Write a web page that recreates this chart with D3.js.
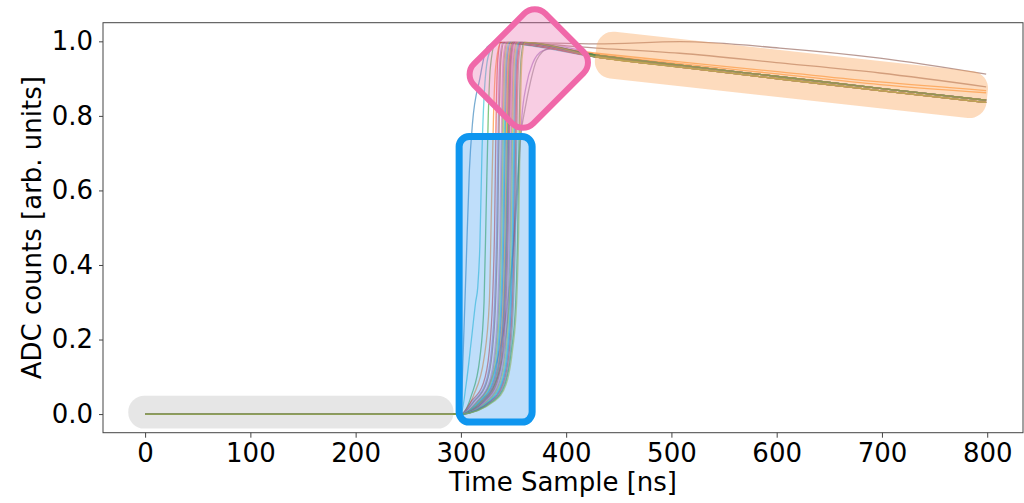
<!DOCTYPE html>
<html>
<head>
<meta charset="utf-8">
<script src="https://cdn.jsdelivr.net/npm/d3@7"></script>
<style>
body { margin: 0; background: #fff; }
text { font-family: "DejaVu Sans", sans-serif; fill: #000; }
</style>
</head>
<body>
<div id="chart"></div>
<script>
var width = 1024,
    height = 503;

// matplotlib default colour cycle
var palette = ['#1f77b4', '#ff7f0e', '#2ca02c', '#d62728', '#9467bd',
               '#8c564b', '#e377c2', '#7f7f7f', '#bcbd22', '#17becf'];

var xTicks = [0, 100, 200, 300, 400, 500, 600, 700, 800];
var yTicks = [0.0, 0.2, 0.4, 0.6, 0.8, 1.0];

// flat baseline before the pulse, [time, value]
var pedestal = [[0, 0], [150, 0], [299, 0]];

// decay after the peak
var tailMain    = [[429, 0.963], [508, 0.936], [603, 0.905], [698, 0.874], [799, 0.842]];
var tailLow     = [[429, 0.958], [508, 0.931], [603, 0.899], [698, 0.868], [799, 0.836]];
var tailMid     = [[429, 0.982], [508, 0.968], [603, 0.942], [698, 0.915], [799, 0.878]];
var tailHigh    = [[429, 0.993], [508, 0.999], [603, 0.982], [698, 0.955], [799, 0.912]];
var tailOrangeA = [[429, 0.968], [508, 0.945], [603, 0.918], [698, 0.891], [799, 0.868]];
var tailOrangeB = [[429, 0.965], [508, 0.940], [603, 0.912], [698, 0.884], [799, 0.862]];

// rising edge of each waveform
var traceRise = [
    [[300, 0], [302, 0.15], [305, 0.4], [308, 0.65], [311, 0.78], [318, 0.9], [325, 0.985], [335, 0.997]],
    [[300, 0], [305, 0.08], [310, 0.2], [314, 0.3], [316, 0.34], [318, 0.45], [320, 0.7], [322, 0.85], [326, 0.96], [333, 0.997]],
    [[300, 0], [310, 0.05], [318, 0.15], [322, 0.3], [324, 0.55], [326, 0.8], [328, 0.93], [333, 0.997]],
    [[300, 0], [312, 0.05], [322, 0.15], [327, 0.3], [329, 0.55], [331, 0.8], [333, 0.93], [338, 0.997]],
    [[300, 0], [315, 0.03], [330, 0.1], [342, 0.25], [350, 0.45], [355, 0.65], [358, 0.8], [362, 0.88], [368, 0.94], [378, 0.975], [395, 0.985]],
    [[300, 0], [318, 0.03], [335, 0.1], [346, 0.3], [353, 0.6], [357, 0.75], [361, 0.82], [366, 0.89], [372, 0.95], [383, 0.98]],
    [[300, 0], [310, 0.035], [321, 0.08], [327, 0.17], [330, 0.3], [332, 0.5], [333.5, 0.8], [335, 0.95], [338, 0.997]],
    [[300, 0], [312, 0.035], [323, 0.08], [329, 0.17], [332, 0.3], [334, 0.5], [335.5, 0.8], [337, 0.95], [340, 0.997]],
    [[300, 0], [313, 0.035], [324, 0.08], [330, 0.17], [333, 0.3], [335, 0.5], [336.5, 0.8], [338, 0.95], [341, 0.997]],
    [[300, 0], [315, 0.035], [326, 0.08], [332, 0.17], [335, 0.3], [337, 0.5], [338.5, 0.8], [340, 0.95], [343, 0.997]],
    [[300, 0], [316, 0.035], [327, 0.08], [333, 0.17], [336, 0.3], [338, 0.5], [339.5, 0.8], [341, 0.95], [344, 0.997]],
    [[300, 0], [317, 0.035], [328, 0.08], [334, 0.17], [337, 0.3], [339, 0.5], [340.5, 0.8], [342, 0.95], [345, 0.997]],
    [[300, 0], [318, 0.035], [329, 0.08], [335, 0.17], [338, 0.3], [340, 0.5], [341.5, 0.8], [343, 0.95], [346, 0.997]],
    [[300, 0], [319, 0.035], [330, 0.08], [336, 0.17], [339, 0.3], [341, 0.5], [342.5, 0.8], [344, 0.95], [347, 0.997]],
    [[300, 0], [320, 0.035], [331, 0.08], [337, 0.17], [340, 0.3], [342, 0.5], [343.5, 0.8], [345, 0.95], [348, 0.997]],
    [[300, 0], [321, 0.035], [332, 0.08], [338, 0.17], [341, 0.3], [343, 0.5], [344.5, 0.8], [346, 0.95], [349, 0.997]],
    [[300, 0], [322, 0.035], [333, 0.08], [339, 0.17], [342, 0.3], [344, 0.5], [345.5, 0.8], [347, 0.95], [350, 0.997]],
    [[300, 0], [320, 0.03], [332, 0.09], [339, 0.2], [342, 0.35], [344, 0.55], [345.5, 0.8], [347, 0.95], [350, 0.997]],
    [[300, 0], [323, 0.035], [334, 0.08], [340, 0.17], [343, 0.3], [345, 0.5], [346.5, 0.8], [348, 0.95], [351, 0.997]],
    [[300, 0], [324, 0.035], [335, 0.08], [341, 0.17], [344, 0.3], [346, 0.5], [347.5, 0.8], [349, 0.95], [352, 0.997]],
    [[300, 0], [325, 0.035], [336, 0.08], [342, 0.17], [345, 0.3], [347, 0.5], [348.5, 0.8], [350, 0.95], [353, 0.997]],
    [[300, 0], [326, 0.035], [337, 0.08], [343, 0.17], [346, 0.3], [348, 0.5], [349.5, 0.8], [351, 0.95], [354, 0.997]],
    [[300, 0], [327, 0.035], [338, 0.08], [344, 0.17], [347, 0.3], [349, 0.5], [350.5, 0.8], [352, 0.95], [355, 0.997]],
    [[300, 0], [328, 0.035], [339, 0.08], [345, 0.17], [348, 0.3], [350, 0.5], [351.5, 0.8], [353, 0.95], [356, 0.997]],
    [[300, 0], [329, 0.035], [340, 0.08], [346, 0.17], [349, 0.3], [351, 0.5], [352.5, 0.8], [354, 0.95], [357, 0.997]],
    [[300, 0], [330, 0.035], [341, 0.08], [347, 0.17], [350, 0.3], [352, 0.5], [353.5, 0.8], [355, 0.95], [358, 0.997]],
    [[300, 0], [331, 0.035], [342, 0.08], [348, 0.17], [352, 0.3], [354, 0.5], [355.5, 0.8], [357, 0.95], [360, 0.997]],
    [[300, 0], [332, 0.035], [343, 0.08], [349, 0.17], [353, 0.3], [355, 0.5], [356.5, 0.8], [358, 0.95], [361, 0.997]]
];
var traceColor = [0, 9, 2, 1, 4, 7, 3, 4, 5, 6, 7, 8, 9, 0, 1, 2, 3, 4, 5, 6, 7, 8, 9, 0, 3, 7, 2, 8];
var traceTail = ['main', 'low', 'main', 'orangeA', 'main', 'low', 'low', 'main', 'mid', 'low', 'main', 'low',
                 'main', 'low', 'orangeB', 'main', 'low', 'main', 'high', 'low', 'main', 'low', 'main', 'low',
                 'main', 'main', 'main', 'low'];

var tails = {main: tailMain, low: tailLow, mid: tailMid, high: tailHigh,
             orangeA: tailOrangeA, orangeB: tailOrangeB};

var x = d3.scaleLinear().domain([-40, 834]).range([103, 1023]);
var y = d3.scaleLinear().domain([-0.05, 1.05]).range([432.7, 22.7]);

var svg = d3.select('#chart').append('svg')
    .attr('width', width)
    .attr('height', height);

var line = d3.line()
    .x(function(d) { return x(d[0]); })
    .y(function(d) { return y(d[1]); })
    .curve(d3.curveMonotoneX);

var series = traceRise.map(function(rise, i) {
    return {color: palette[traceColor[i]], pts: pedestal.concat(rise, tails[traceTail[i]])};
});

svg.append('g').selectAll('path')
    .data(series)
  .enter().append('path')
    .attr('d', function(d) { return line(d.pts); })
    .attr('fill', 'none')
    .attr('stroke', function(d) { return d.color; })
    .attr('stroke-width', 1.3)
    .attr('stroke-opacity', 0.6);

// axes and frame
var xAxis = svg.append('g')
    .attr('transform', 'translate(0,' + y.range()[0] + ')')
    .call(d3.axisBottom(x).tickValues(xTicks).tickSize(5).tickPadding(6).tickSizeOuter(0));
var yAxis = svg.append('g')
    .attr('transform', 'translate(' + x.range()[0] + ',0)')
    .call(d3.axisLeft(y).tickValues(yTicks).tickFormat(d3.format('.1f')).tickSize(4).tickPadding(6).tickSizeOuter(0));
[xAxis, yAxis].forEach(function(a) {
    a.selectAll('text').style('font-size', '26px').style('font-family', '"DejaVu Sans", sans-serif');
    a.selectAll('line').attr('stroke', '#444');
    a.select('.domain').remove();
});

svg.append('rect')
    .attr('x', x.range()[0]).attr('y', y.range()[1])
    .attr('width', x.range()[1] - x.range()[0])
    .attr('height', y.range()[0] - y.range()[1])
    .attr('fill', 'none')
    .attr('stroke', '#444')
    .attr('stroke-width', 1);

svg.append('text')
    .attr('x', (x.range()[0] + x.range()[1]) / 2)
    .attr('y', 491)
    .attr('text-anchor', 'middle')
    .style('font-size', '26px')
    .text('Time Sample [ns]');

svg.append('text')
    .attr('transform', 'translate(41,' + ((y.range()[0] + y.range()[1]) / 2) + ') rotate(-90)')
    .attr('text-anchor', 'middle')
    .style('font-size', '26px')
    .text('ADC counts [arb. units]');

// highlight boxes laid over the plot
var marks = svg.append('g');

// pedestal
marks.append('rect')
    .attr('x', x(-16)).attr('y', y(0.049))
    .attr('width', x(293) - x(-16))
    .attr('height', y(-0.039) - y(0.049))
    .attr('rx', 16)
    .attr('fill', '#a6a6a6')
    .attr('fill-opacity', 0.28);

// rising edge
var bx0 = x(295) + 3.5, bx1 = x(371) - 3.5,
    by0 = y(0.754) + 3.5, by1 = y(-0.031) - 3.5;
marks.append('rect')
    .attr('x', bx0).attr('y', by0)
    .attr('width', bx1 - bx0).attr('height', by1 - by0)
    .attr('rx', 10)
    .attr('fill', '#3d9bf0')
    .attr('fill-opacity', 0.33)
    .attr('stroke', '#0f96ef')
    .attr('stroke-width', 7);

// peak
var pw = 101, ph = 84;
marks.append('rect')
    .attr('transform', 'translate(' + x(364.5) + ',' + y(0.927) + ') rotate(-45)')
    .attr('x', -pw / 2).attr('y', -ph / 2)
    .attr('width', pw).attr('height', ph)
    .attr('rx', 15)
    .attr('fill', '#ec6fb0')
    .attr('fill-opacity', 0.35)
    .attr('stroke', '#f068a9')
    .attr('stroke-width', 6);

// decay
var ox0 = x(428), oy0 = y(0.968), ox1 = x(800), oy1 = y(0.852);
var olen = Math.sqrt((ox1 - ox0) * (ox1 - ox0) + (oy1 - oy0) * (oy1 - oy0)),
    oang = Math.atan2(oy1 - oy0, ox1 - ox0) * 180 / Math.PI;
marks.append('rect')
    .attr('transform', 'translate(' + ((ox0 + ox1) / 2) + ',' + ((oy0 + oy1) / 2) + ') rotate(' + oang + ')')
    .attr('x', -olen / 2).attr('y', -23.5)
    .attr('width', olen).attr('height', 47)
    .attr('rx', 17)
    .attr('fill', '#fba45a')
    .attr('fill-opacity', 0.4);
</script>
</body>
</html>
